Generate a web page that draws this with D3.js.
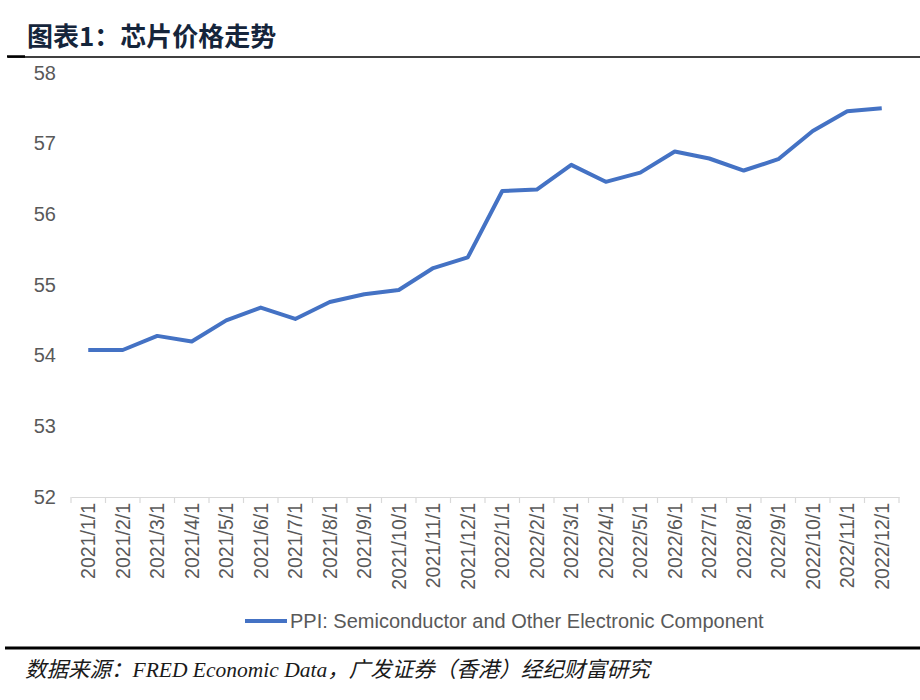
<!DOCTYPE html>
<html><head><meta charset="utf-8">
<script src="https://cdn.jsdelivr.net/npm/d3@7"></script>
<style>body{margin:0;background:#fff;} svg{display:block;}</style>
</head><body>
<svg id="chart" width="920" height="700"></svg>
<script>
const categories = ["2021/1/1","2021/2/1","2021/3/1","2021/4/1","2021/5/1","2021/6/1","2021/7/1","2021/8/1","2021/9/1","2021/10/1","2021/11/1","2021/12/1",
  "2022/1/1","2022/2/1","2022/3/1","2022/4/1","2022/5/1","2022/6/1","2022/7/1","2022/8/1","2022/9/1","2022/10/1","2022/11/1","2022/12/1"];
const values = [54.08,54.08,54.28,54.20,54.50,54.68,54.52,54.76,54.87,54.93,55.24,55.39,
  56.33,56.35,56.70,56.46,56.59,56.89,56.79,56.62,56.78,57.18,57.46,57.50];
const yTicks = [52,53,54,55,56,57,58];
const title = "图表1：芯片价格走势";
const seriesName = "PPI: Semiconductor and Other Electronic Component";
const source = "数据来源：FRED Economic Data，广发证券（香港）经纪财富研究";

const svg = d3.select("#chart");
const gray = "#595959";

// title
svg.append("text").attr("x",27).attr("y",46)
  .attr("font-family","'Noto Sans CJK SC', sans-serif").attr("font-weight","bold")
  .attr("font-size",26).attr("fill","#15253b").text(title);
svg.append("line").attr("x1",8).attr("x2",920).attr("y1",57).attr("y2",57)
  .attr("stroke","#000").attr("stroke-width",1.5);
svg.append("line").attr("x1",7).attr("x2",25).attr("y1",56.5).attr("y2",56.5)
  .attr("stroke","#000").attr("stroke-width",2.5);

const x = d3.scaleBand().domain(categories).range([71,899]);
const y = d3.scaleLinear().domain([52,58]).range([497,73]);

// y labels
const ya = svg.append("g").attr("transform","translate(56,0)")
  .call(d3.axisLeft(y).tickValues(yTicks).tickSize(0).tickPadding(0).tickFormat(d3.format("d")));
ya.select(".domain").remove();
ya.selectAll("text").attr("font-family","Liberation Sans, Arial, sans-serif")
  .attr("font-size",20).attr("fill",gray).attr("dy","0.3em");

// x axis
const xa = svg.append("g").attr("transform","translate(0,497)")
  .call(d3.axisBottom(x).tickSize(0).tickPadding(0));
xa.select(".domain").attr("stroke","#d9d9d9").attr("stroke-width",1.2);
const bounds = categories.map(c => x(c)).concat([x.range()[1]]);
xa.selectAll("line.bt").data(bounds).enter().append("line").attr("class","bt")
  .attr("x1",d=>d).attr("x2",d=>d).attr("y1",0).attr("y2",6)
  .attr("stroke","#d9d9d9").attr("stroke-width",1.2);
xa.selectAll(".tick text")
  .attr("font-family","Liberation Sans, Arial, sans-serif").attr("font-size",19.5).attr("fill",gray)
  .attr("transform","rotate(-90)").attr("text-anchor","end").attr("dy","0.36em")
  .attr("x",-6).attr("y",0);
xa.selectAll(".tick").attr("transform", d => `translate(${x(d)+x.bandwidth()/2},0)`);

// line
const line = d3.line().x((d,i)=>x(categories[i])+x.bandwidth()/2).y(d=>y(d));
svg.append("path").datum(values).attr("d",line).attr("fill","none")
  .attr("stroke","#4472c4").attr("stroke-width",4).attr("stroke-linejoin","round");

// legend
svg.append("line").attr("x1",245).attr("x2",287).attr("y1",621).attr("y2",621)
  .attr("stroke","#4472c4").attr("stroke-width",4);
svg.append("text").attr("x",290).attr("y",628)
  .attr("font-family","Liberation Sans, Arial, sans-serif").attr("font-size",20).attr("fill",gray)
  .text(seriesName);

// bottom rule and source
svg.append("line").attr("x1",5).attr("x2",920).attr("y1",648).attr("y2",648)
  .attr("stroke","#000").attr("stroke-width",3);
svg.append("text").attr("x",25).attr("y",677)
  .attr("font-family","'Liberation Serif', 'Noto Sans CJK SC', serif").attr("font-style","italic")
  .attr("font-size",21.5).attr("fill","#1a1a1a").text(source);
</script>
</body></html>
